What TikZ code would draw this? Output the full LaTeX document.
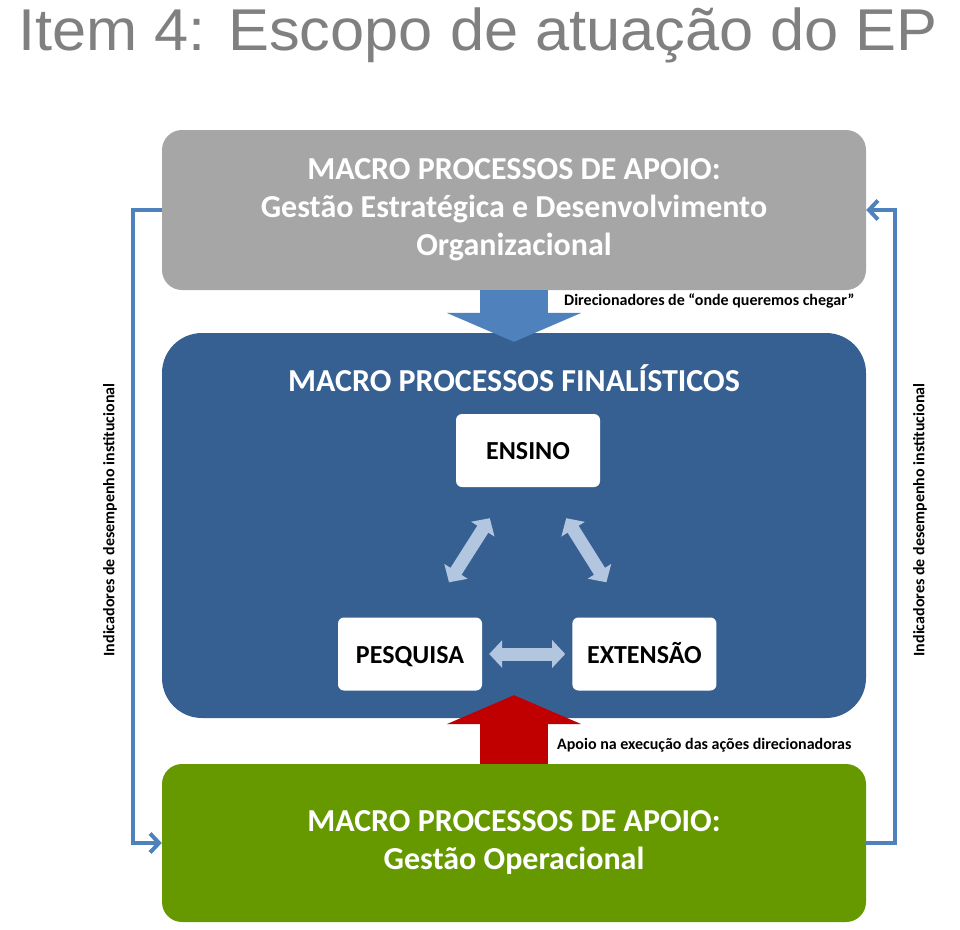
\documentclass[tikz,border=0pt]{standalone}
\usepackage{fontspec}
\setmainfont{Carlito}
\newfontfamily\titlefont[FakeStretch=1.04]{Liberation Sans}
\usepackage{xcolor}
\usetikzlibrary{arrows.meta,positioning}
\definecolor{apoiogray}{HTML}{A6A6A6}
\definecolor{finalblue}{HTML}{376092}
\definecolor{opgreen}{HTML}{669900}
\definecolor{arrblue}{HTML}{4F81BD}
\definecolor{lightarr}{HTML}{B3C6E0}
\definecolor{apoiored}{HTML}{C00000}
\definecolor{titlegray}{HTML}{808080}
\tikzset{
  bigbox/.style={rounded corners=20pt, minimum width=704pt, align=center, text=white, font=\fontsize{32}{38}\selectfont\bfseries, inner sep=0pt},
  bigtitle/.style={text=white, font=\fontsize{32}{38}\selectfont\bfseries, inner sep=0pt},
  procbox/.style={fill=white, rounded corners=6pt, minimum width=144pt, minimum height=73pt, text height=18pt, text depth=0pt, font=\fontsize{26}{30}\selectfont\bfseries, inner sep=0pt},
  note/.style={font=\fontsize{16}{18}\selectfont\bfseries, inner sep=0pt},
  duparr/.style={{Triangle[width=27pt,length=13pt]}-{Triangle[width=27pt,length=13pt]}, line width=13pt, draw=lightarr},
  blockarr/.style={-{Triangle[width=134pt,length=29pt]}, line width=68pt},
  sidearr/.style={-{Straight Barb[length=9pt,width=19pt]}, line width=4pt, draw=arrblue}
}
\begin{document}
\begin{tikzpicture}[x=1pt,y=-1pt]
\useasboundingbox (0,0) rectangle (960,929);
\node[anchor=base, inner sep=0pt, text=titlegray, font=\titlefont\fontsize{59}{59}\selectfont] (title) at (478,50) {Item 4: Escopo de atuação do EP};

% boxes
\node[bigbox, fill=apoiogray, minimum height=160pt] (estrat) at (514,210) {MACRO PROCESSOS DE APOIO:\\Gestão Estratégica e Desenvolvimento\\Organizacional};
\node[bigbox, fill=finalblue, minimum height=385pt, rounded corners=40pt] (final) at (514,525.5) {};
\node[bigtitle] (finaltit) at (514,378) {MACRO PROCESSOS FINALÍSTICOS};
\node[procbox] (ensino) at (528,450.5) {ENSINO};
\node[procbox] (pesq) at (410,654) {PESQUISA};
\node[procbox, right=90pt of pesq] (ext) {EXTENSÃO};
\node[bigbox, fill=opgreen, minimum height=158pt] (oper) at (514,843) {MACRO PROCESSOS DE APOIO:\\Gestão Operacional};

% arrows
\draw[blockarr, draw=arrblue] (estrat.south) -- ([yshift=-9pt]final.north);
\draw[blockarr, draw=apoiored] (oper.north) -- ([yshift=23pt]final.south);
\draw[duparr] ([xshift=39pt,yshift=35pt]pesq.north) -- ([xshift=34pt,yshift=-31pt]ensino.south west);
\draw[duparr] ([xshift=-34pt,yshift=-31pt]ensino.south east) -- ([xshift=-38pt,yshift=35pt]ext.north);
\draw[duparr, shorten <=7pt, shorten >=7pt] (pesq.east) -- (ext.west);
\draw[sidearr] (estrat.west) -- ++(-29,0) |- (oper.west);
\draw[sidearr] (oper.east) -- ++(29,0) |- (estrat.east);

% labels
\node[note, anchor=west] (dirnote) at (564,301) {Direcionadores de “onde queremos chegar”};
\node[note, anchor=west] (apoionote) at (557,745) {Apoio na execução das ações direcionadoras};
\node[note, rotate=90] (indleft) at (110,520) {Indicadores de desempenho institucional};
\node[note, rotate=90] (indright) at (920,520) {Indicadores de desempenho institucional};
\end{tikzpicture}
\end{document}
